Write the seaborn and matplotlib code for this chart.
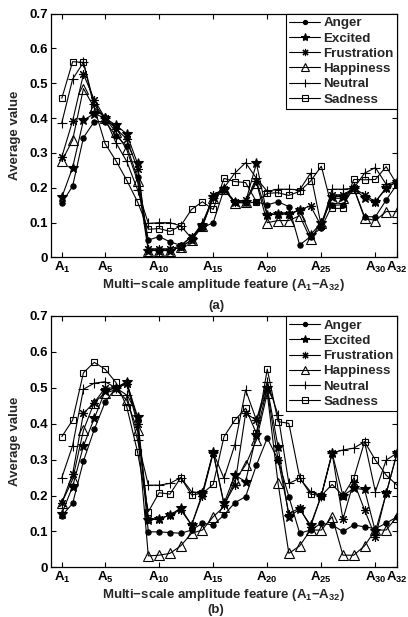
import matplotlib
matplotlib.use("Agg")
import matplotlib.pyplot as plt
import seaborn as sns
import pandas as pd

features = list(range(1, 33))
emotions = ["Anger", "Excited", "Frustration", "Happiness", "Neutral", "Sadness"]
tick_positions = [1, 5, 10, 15, 20, 25, 30, 32]
y_ticks = [0, 0.1, 0.2, 0.3, 0.4, 0.5, 0.6, 0.7]
y_tick_labels = ["0", "0.1", "0.2", "0.3", "0.4", "0.5", "0.6", "0.7"]

# ---- panel (a) ----
a_anger = [0.156, 0.205, 0.344, 0.390, 0.390, 0.350, 0.320, 0.230, 0.050, 0.060, 0.045, 0.035, 0.060, 0.085, 0.100, 0.195,
           0.160, 0.155, 0.160, 0.151, 0.160, 0.146, 0.036, 0.060, 0.085, 0.150, 0.151, 0.199, 0.117, 0.117, 0.165, 0.210]
a_excited = [0.173, 0.258, 0.394, 0.413, 0.400, 0.380, 0.355, 0.270, 0.020, 0.020, 0.020, 0.030, 0.050, 0.090, 0.175, 0.197,
             0.160, 0.160, 0.270, 0.122, 0.125, 0.125, 0.135, 0.065, 0.100, 0.175, 0.175, 0.199, 0.170, 0.160, 0.199, 0.218]
a_frustration = [0.289, 0.392, 0.526, 0.453, 0.400, 0.370, 0.340, 0.255, 0.025, 0.025, 0.025, 0.033, 0.060, 0.090, 0.180, 0.197,
                 0.160, 0.165, 0.220, 0.122, 0.125, 0.125, 0.137, 0.148, 0.090, 0.180, 0.180, 0.199, 0.180, 0.160, 0.200, 0.218]
a_happiness = [0.277, 0.337, 0.485, 0.430, 0.400, 0.360, 0.310, 0.220, 0.020, 0.020, 0.020, 0.030, 0.050, 0.090, 0.170, 0.197,
               0.155, 0.160, 0.215, 0.100, 0.106, 0.106, 0.120, 0.053, 0.100, 0.170, 0.170, 0.199, 0.113, 0.106, 0.132, 0.132]
a_neutral = [0.387, 0.512, 0.560, 0.440, 0.400, 0.330, 0.276, 0.195, 0.098, 0.100, 0.100, 0.091, 0.055, 0.100, 0.170, 0.200,
             0.242, 0.272, 0.227, 0.190, 0.196, 0.196, 0.194, 0.242, 0.090, 0.196, 0.196, 0.199, 0.242, 0.258, 0.210, 0.218]
a_sadness = [0.457, 0.562, 0.560, 0.430, 0.327, 0.278, 0.222, 0.160, 0.081, 0.083, 0.075, 0.091, 0.138, 0.160, 0.138, 0.227,
             0.218, 0.215, 0.160, 0.184, 0.186, 0.178, 0.190, 0.219, 0.262, 0.141, 0.141, 0.224, 0.223, 0.224, 0.261, 0.210]

# ---- panel (b) ----
b_anger = [0.144, 0.178, 0.296, 0.384, 0.460, 0.500, 0.517, 0.410, 0.099, 0.099, 0.097, 0.095, 0.104, 0.123, 0.118, 0.146,
           0.180, 0.197, 0.285, 0.360, 0.300, 0.197, 0.095, 0.104, 0.123, 0.118, 0.100, 0.118, 0.113, 0.108, 0.123, 0.141]
b_excited = [0.150, 0.225, 0.338, 0.415, 0.490, 0.500, 0.515, 0.420, 0.132, 0.135, 0.146, 0.165, 0.118, 0.206, 0.322, 0.178,
             0.257, 0.239, 0.370, 0.500, 0.336, 0.141, 0.162, 0.118, 0.200, 0.318, 0.200, 0.220, 0.217, 0.100, 0.206, 0.318]
b_frustration = [0.180, 0.260, 0.429, 0.459, 0.499, 0.500, 0.510, 0.400, 0.135, 0.135, 0.146, 0.160, 0.118, 0.200, 0.318, 0.175,
                 0.229, 0.429, 0.410, 0.494, 0.300, 0.150, 0.165, 0.113, 0.200, 0.318, 0.134, 0.239, 0.160, 0.085, 0.206, 0.318]
b_happiness = [0.180, 0.245, 0.382, 0.459, 0.485, 0.495, 0.466, 0.382, 0.032, 0.034, 0.039, 0.060, 0.095, 0.104, 0.141, 0.169,
               0.243, 0.285, 0.355, 0.485, 0.234, 0.039, 0.060, 0.104, 0.104, 0.141, 0.034, 0.034, 0.060, 0.104, 0.104, 0.141]
b_neutral = [0.250, 0.339, 0.496, 0.513, 0.517, 0.500, 0.480, 0.355, 0.229, 0.229, 0.234, 0.250, 0.211, 0.206, 0.320, 0.248,
             0.341, 0.494, 0.410, 0.517, 0.424, 0.234, 0.248, 0.211, 0.200, 0.318, 0.327, 0.332, 0.350, 0.211, 0.299, 0.318]
b_sadness = [0.364, 0.410, 0.542, 0.571, 0.552, 0.515, 0.448, 0.322, 0.155, 0.208, 0.204, 0.250, 0.202, 0.206, 0.231, 0.364,
             0.410, 0.443, 0.373, 0.552, 0.406, 0.401, 0.250, 0.204, 0.200, 0.231, 0.200, 0.248, 0.350, 0.299, 0.257, 0.229]

panels = {
    "(a)": dict(zip(emotions, [a_anger, a_excited, a_frustration, a_happiness, a_neutral, a_sadness])),
    "(b)": dict(zip(emotions, [b_anger, b_excited, b_frustration, b_happiness, b_neutral, b_sadness])),
}

sns.set_style("ticks")
plt.rcParams["font.family"] = ["Liberation Sans", "DejaVu Sans"]
plt.rcParams["font.weight"] = "bold"
plt.rcParams["axes.labelweight"] = "bold"
plt.rcParams["mathtext.fontset"] = "custom"
plt.rcParams["mathtext.rm"] = "Liberation Sans:bold"
plt.rcParams["mathtext.bf"] = "Liberation Sans:bold"
plt.rcParams["mathtext.it"] = "Liberation Sans:bold"

styles = {
    "Anger": dict(marker="o", markersize=3.8, markerfacecolor="black"),
    "Excited": dict(marker="*", markersize=7.5, markerfacecolor="black"),
    "Frustration": dict(marker=(8, 2, 0), markersize=6.5, markerfacecolor="black"),
    "Happiness": dict(marker="^", markersize=6.8, markerfacecolor="none"),
    "Neutral": dict(marker="+", markersize=7.5, markerfacecolor="black"),
    "Sadness": dict(marker="s", markersize=5, markerfacecolor="none"),
}

W, H = 408, 617
fig = plt.figure(figsize=(W / 100, H / 100), dpi=100)
# axes boxes in pixels: left, top, right, bottom
boxes = {"(a)": (51, 13.6, 397, 257.5), "(b)": (51, 316, 397, 567.4)}
tick_labels = [r"A$_{%d}$" % t for t in tick_positions]
fs = 9.5

for name, data in panels.items():
    l, t, r, b = boxes[name]
    ax = fig.add_axes([l / W, 1 - b / H, (r - l) / W, (b - t) / H])
    handles = []
    for emo in emotions:
        df = pd.DataFrame({"feature": features, "value": data[emo]})
        sns.lineplot(data=df, x="feature", y="value", ax=ax, color="black", linewidth=0.8,
                     markeredgecolor="black", markeredgewidth=0.8, legend=False, **styles[emo])
        handles.append(plt.Line2D([], [], color="black", linewidth=0.8, markeredgecolor="black",
                                  markeredgewidth=0.8, label=emo, **styles[emo]))
    ax.set_xlim(0, 32)
    ax.set_ylim(0, 0.7)
    ax.set_xticks(tick_positions)
    ax.set_xticklabels(tick_labels, fontsize=fs, fontweight="bold")
    ax.set_yticks(y_ticks)
    ax.set_yticklabels(y_tick_labels, fontsize=fs, fontweight="bold")
    ax.tick_params(direction="in", top=True, right=True, length=3.5, width=0.8, pad=2, colors="black")
    for sp in ax.spines.values():
        sp.set_color("black")
        sp.set_linewidth(0.9)
        sp.set_visible(True)
    ax.set_xlabel("Multi\u2212scale amplitude feature (A$_{1}$\u2212A$_{32}$)", fontsize=fs, fontweight="bold", labelpad=1)
    ax.set_ylabel("Average value", fontsize=fs, fontweight="bold", labelpad=6)
    leg = ax.legend(handles=handles, loc="upper right", borderaxespad=0, frameon=True,
                    fancybox=False, framealpha=1, edgecolor="black", handlelength=2.3, handletextpad=0.25,
                    labelspacing=0.22, borderpad=0.25, markerscale=0.8, prop={"weight": "bold", "size": 9.6})
    leg.get_frame().set_linewidth(0.8)
    ypix = b + 49 if name == "(a)" else b + 43
    fig.text(216 / W, 1 - ypix / H, name, ha="center", va="center", fontsize=fs, fontweight="bold")

fig.savefig("out.png", dpi=100)
